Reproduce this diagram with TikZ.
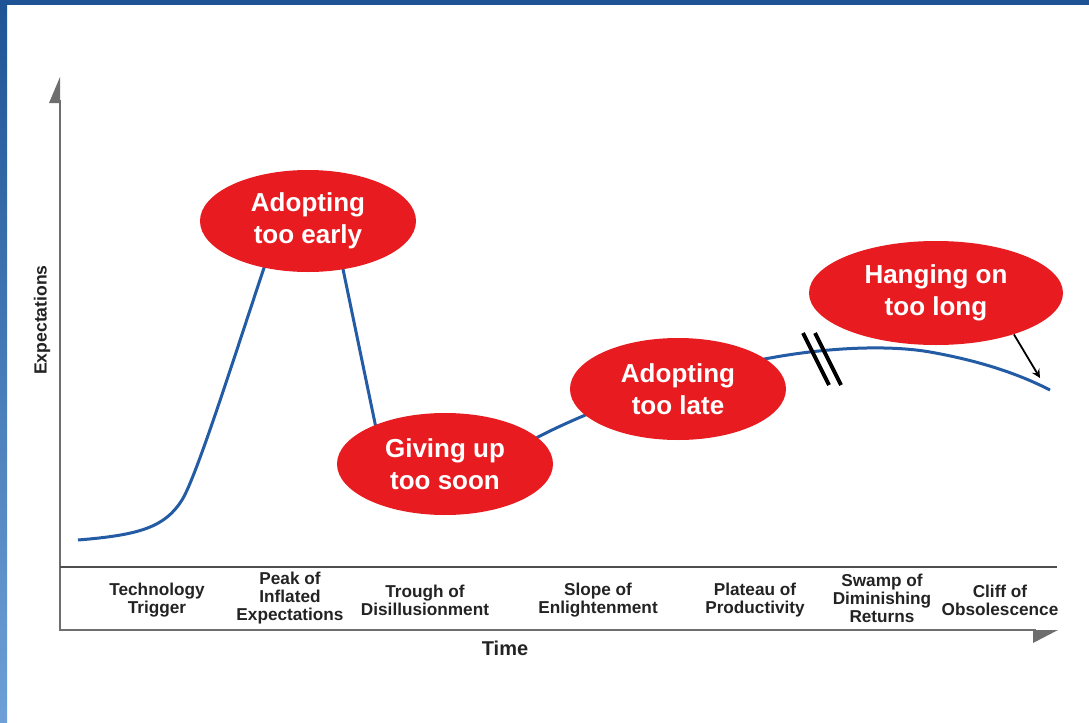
\documentclass[tikz,border=0pt]{standalone}
\usepackage{fontspec}
\setmainfont{Liberation Sans}
\usepackage{xcolor}
\usetikzlibrary{shapes,arrows,positioning,calc}

\definecolor{frameblue}{RGB}{30,84,150}
\definecolor{framelight}{RGB}{110,160,215}
\definecolor{hypered}{RGB}{232,28,32}
\definecolor{curveblue}{RGB}{35,92,165}
\definecolor{axisgray}{RGB}{110,110,110}
\definecolor{labelgray}{RGB}{35,35,35}

\begin{document}
\begin{tikzpicture}[x=0.5pt, y=-0.5pt,
  bubble/.style={ellipse, fill=hypered, text=white, align=center, inner sep=0pt,
    minimum width=108pt, minimum height=51pt, font=\fontsize{13}{16}\selectfont\bfseries},
  phase/.style={align=center, text=labelgray, inner sep=0pt,
    font=\fontsize{8.6}{9}\selectfont\bfseries},
  axis/.style={draw=axisgray, line width=1pt}]
\useasboundingbox (0,0) rectangle (1089,723);
\fill[white] (0,0) rectangle (1089,723);

% frame
\shade[top color=frameblue, bottom color=framelight] (0,0) rectangle (7,723);
\fill[frameblue] (0,0) rectangle (1089,5);

% axes
\draw[axis] (60,100) -- (60,630) -- (1036,630);
\draw[draw=labelgray!80, line width=1.1pt] (60,567) -- (1057,567);
\fill[axisgray] (60,77) -- (49,103) -- (60,103) -- cycle;
\fill[axisgray] (1058,630) -- (1033,630) -- (1033,643) -- cycle;

% hype curve
\draw[curveblue, line width=1.5pt] (78,540)
  .. controls (140,535) and (165,527) .. (182,500)
  .. controls (197,476) and (238,345) .. (266,262)
  .. controls (282,185) and (325,180) .. (338,245)
  -- (376,428)
  .. controls (395,490) and (480,475) .. (538,437)
  .. controls (600,405) and (700,370) .. (770,358)
  .. controls (830,347) and (890,345) .. (930,352)
  .. controls (975,360) and (1015,372) .. (1050,390);

% situations
\node[bubble] (early) at (308,221) {Adopting\\too early};
\node[bubble] (soon) at (445,464) {Giving up\\too soon};
\node[bubble] (late) at (678,389) {Adopting\\too late};
\node[bubble, minimum width=127pt, minimum height=52pt] (long) at (936,293) {Hanging on\\too long};

\draw[black, line width=2pt] (803,333) -- (829,385);
\draw[black, line width=2pt] (815,333) -- (841,385);
\coordinate (drop) at (1040,378);
\draw[-stealth, black, line width=0.9pt] (long.-28) -- (drop);

% phases
\node[phase] (trigger) at (157,600) {Technology\\Trigger};
\node[phase] (peak) at (290,598) {Peak of\\Inflated\\Expectations};
\node[phase] (trough) at (425,600) {Trough of\\Disillusionment};
\node[phase] (slope) at (598,600) {Slope of\\Enlightenment};
\node[phase] (plateau) at (755,600) {Plateau of\\Productivity};
\node[phase] (swamp) at (882,598) {Swamp of\\Diminishing\\Returns};
\node[phase] (cliff) at (1000,600) {Cliff of\\Obsolescence};

\node[text=labelgray, font=\fontsize{10}{12}\selectfont\bfseries] (time) at (505,648) {Time};
\node[text=labelgray, rotate=90, font=\fontsize{8.8}{10}\selectfont\bfseries] (expect) at (42,320) {Expectations};
\end{tikzpicture}
\end{document}
